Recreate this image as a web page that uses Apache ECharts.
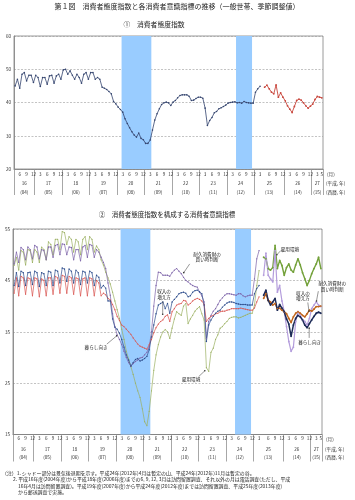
<!DOCTYPE html>
<html><head><meta charset="utf-8">
<script src="https://cdn.jsdelivr.net/npm/echarts/dist/echarts.min.js"></script>
<style>html,body{margin:0;padding:0;background:#fff}#c{width:355px;height:500px}</style>
</head><body><div id="c"></div>
<script>
const FONT = '"Noto Sans CJK JP", "Noto Sans", sans-serif';

// ---- categories: monthly slots Apr 2004 - May 2015, with one empty slot after Mar 2013 (survey change)
const months = [];
for (let y = 2004; y <= 2015; y++) {
  for (let m = 1; m <= 12; m++) {
    if (y === 2004 && m < 4) continue;
    if (y === 2015 && m > 5) break;
    months.push(y + '-' + String(m).padStart(2, '0'));
    if (y === 2013 && m === 3) months.push('gap');
  }
}
const yearsList = [2004,2005,2006,2007,2008,2009,2010,2011,2012,2013,2014,2015];
const heiseiYears = ['16','17','18','19','20','21','22','23','24','25','26','27'];
const westernYears = ['(04)','(05)','(06)','(07)','(08)','(09)','(10)','(11)','(12)','(13)','(14)','(15)'];
const monthTickLabels = [3, 6, 9, 12];
const recessions = [['2008-03','2009-03'], ['2012-05','2012-11']];

// ---- ① 消費者態度指数 (Apr 2004 - Mar 2013 old survey, Apr 2013 - May 2015 new survey)
const cciOld = [
  45.0,47.0,44.3,48.5,49.0,46.5,48.2,48.2,46.0,
  48.2,47.5,44.8,47.5,47.5,45.5,48.0,48.2,45.8,48.0,48.5,47.0,
  49.8,50.0,48.5,49.5,48.2,47.0,48.5,47.5,45.8,48.5,49.0,47.0,
  49.0,49.0,47.0,47.5,47.0,44.6,44.3,43.9,43.3,42.6,40.3,39.6,
  38.6,37.9,37.1,35.1,33.7,32.4,31.2,30.2,29.6,30.8,29.2,28.8,
  27.7,27.7,28.7,31.7,34.7,36.6,38.1,39.4,39.9,40.1,39.9,39.1,
  40.1,40.6,41.4,42.1,42.3,42.3,42.3,41.9,40.6,40.7,41.2,41.6,
  41.6,41.3,38.3,33.1,34.6,35.5,36.9,37.3,38.1,38.4,38.8,39.2,
  39.8,40.0,40.1,40.2,39.9,40.0,39.8,40.3,40.0,39.9,39.8,39.8,
  43.1,44.1,44.9];
const cciNew = [44.6,45.2,44.1,43.1,42.6,45.3,41.6,42.9,41.6,40.5,39.0,38.0,37.0,38.8,40.6,41.0,40.7,39.9,39.0,38.3,38.9,39.5,40.9,41.8,41.6,41.4];

// ---- ② 各消費者意識指標
const lifeOld = [
  44.0,46.5,43.8,46.8,46.5,44.0,46.5,46.6,44.2,
  46.8,46.5,43.8,46.5,46.3,44.0,46.8,46.6,44.0,47.0,46.8,44.5,
  47.4,47.2,44.8,47.2,46.8,44.5,47.0,46.5,44.2,46.8,46.6,44.5,
  46.8,46.5,44.0,46.0,45.6,43.5,44.0,43.5,41.0,41.0,37.5,35.9,
  35.5,34.7,33.5,32.0,30.5,29.5,28.3,29.0,29.6,29.8,29.3,29.5,
  29.8,30.2,31.5,34.0,36.3,38.5,40.2,40.5,40.8,39.5,40.5,38.6,
  40.8,41.3,41.8,42.4,42.6,42.7,42.5,41.8,42.0,42.7,43.0,43.1,
  42.8,42.4,40.2,33.1,36.3,37.3,38.0,38.6,39.0,39.2,39.8,40.2,
  40.6,40.8,40.8,40.7,40.5,40.4,40.3,40.3,40.3,40.2,40.2,40.2,
  42.4,43.4,44.0];
const incomeOld = [
  42.5,45.5,42.0,45.8,45.5,42.3,45.5,45.3,42.0,
  45.5,45.3,41.8,45.3,45.0,42.0,45.5,45.5,42.3,45.8,45.5,42.5,
  46.0,45.8,42.5,45.8,45.5,42.3,45.5,45.3,42.0,45.3,45.5,42.0,
  45.5,45.3,42.0,45.0,44.5,42.0,42.5,42.2,41.5,41.2,40.3,39.3,
  38.0,37.2,36.3,36.0,35.5,35.0,34.5,33.8,33.2,32.6,32.2,32.0,
  31.8,31.6,32.5,33.5,34.8,35.8,36.5,37.0,37.3,38.0,38.3,37.0,
  38.9,39.5,40.2,40.4,40.5,41.1,41.0,40.2,40.5,41.0,41.3,41.5,
  41.3,41.0,40.3,37.0,37.6,38.0,38.2,38.5,38.6,38.9,39.0,39.0,
  39.2,39.3,39.5,39.5,39.5,39.5,39.6,39.5,39.4,39.3,39.2,39.2,
  39.6,40.8,41.8];
const employOld = [
  47.9,49.5,47.0,50.8,50.5,48.0,51.0,50.8,48.5,
  51.0,50.5,48.5,51.5,51.0,49.0,52.5,52.0,50.0,53.0,53.0,51.0,
  54.5,54.3,52.0,53.5,53.0,50.5,53.0,52.5,50.0,53.0,53.5,51.0,
  53.5,53.0,50.5,51.7,51.0,49.0,48.0,46.6,45.5,44.3,42.7,41.0,
  39.3,37.6,35.5,33.5,31.2,29.7,28.2,26.7,25.0,23.5,22.2,20.0,
  17.5,16.7,19.5,23.5,27.5,30.5,32.5,34.0,35.0,35.4,35.0,33.7,
  35.7,37.5,38.9,38.5,38.2,40.0,40.5,36.6,37.5,38.2,39.0,39.5,
  39.9,38.5,37.3,28.0,27.3,31.0,31.8,33.5,34.4,35.7,36.0,36.6,
  37.0,37.6,37.8,37.9,37.9,37.7,37.8,38.0,38.2,38.4,38.6,38.6,
  40.2,44.0,46.9];
const durableOld = [
  48.2,50.5,48.5,51.4,51.0,49.0,51.5,51.0,49.2,
  51.8,51.5,49.2,51.0,50.8,49.0,51.5,51.5,49.5,51.8,52.0,50.0,
  52.1,52.0,50.0,51.5,51.4,49.0,51.0,51.0,48.8,51.5,51.8,49.5,
  52.0,51.8,49.5,51.0,50.5,49.5,48.5,47.3,44.5,42.1,38.5,36.0,
  34.4,33.5,32.5,31.2,30.0,29.0,28.3,28.8,29.2,29.5,29.9,30.0,
  30.5,31.0,32.0,35.0,40.0,44.0,46.6,46.5,46.0,46.0,46.0,45.8,
  46.5,47.0,47.3,46.8,46.3,45.6,45.0,44.7,44.3,44.0,43.8,43.7,
  42.7,42.0,40.8,33.7,37.0,38.2,39.0,39.5,40.3,41.1,41.6,42.1,
  42.4,42.4,42.3,42.2,42.1,42.4,42.4,42.0,41.8,42.0,42.1,42.1,
  45.3,49.2,50.8];
const lifeNew    = [42.1,43.1,41.1,40.2,40.8,41.5,39.2,40.3,39.6,38.9,37.5,36.5,34.1,36.3,37.6,38.2,37.9,37.3,36.3,35.8,36.6,37.3,38.0,38.6,38.8,38.6];
const incomeNew  = [41.5,42.4,41.1,40.8,40.2,40.5,39.5,39.6,39.2,38.9,38.5,37.6,36.8,37.9,38.6,38.9,38.6,38.2,37.9,38.5,39.2,39.0,39.4,39.9,39.9,40.0];
const employNew  = [49.5,49.2,47.3,47.0,47.5,51.8,47.3,48.9,47.9,46.0,47.5,48.2,47.0,46.6,48.0,49.2,48.0,46.5,45.3,44.0,45.0,46.3,47.3,48.2,49.5,47.3];
const durableNew = [46.0,50.3,46.0,45.3,44.7,50.8,42.7,44.0,41.0,38.9,36.0,33.1,31.2,32.0,37.0,38.9,38.2,37.3,37.0,36.3,37.6,39.5,40.2,40.8,40.2,39.9];

// annotation texts with anchor points in data units (x = slot units on the value axis, y = index value)
const annotations = [
  {text:'暮らし向き', label:[36.3,31.9], from:[41.0,32.6], to:[45.3,34.2]},
  {text:'収入の\n増え方', label:[66.0,42.3], from:[65.4,40.9], to:[65.4,38.4]},
  {text:'耐久消費財の\n買い時判断', label:[84.8,49.6], from:[77.2,48.2], to:[74.6,46.5]},
  {text:'雇用環境', label:[77.8,25.8], from:[81.2,26.3], to:[83.8,27.4]},
  {text:'雇用環境', label:[121.0,51.0], from:[117.0,50.8], to:[115.3,50.0]},
  {text:'耐久消費財の\n買い時判断', label:[139.5,43.8], from:[133.4,42.9], to:[132.6,41.0]},
  {text:'収入の\n増え方', label:[126.7,42.0], from:[128.8,40.7], to:[129.3,39.0]},
  {text:'暮らし向き', label:[129.6,32.9], from:[129.4,33.8], to:[129.4,35.7]}
];

// ---- helpers
const N = months.length;
const oldStart = 0, newStart = months.indexOf('2013-04');
const padOld = arr => months.map((m, i) => (i - oldStart >= 0 && i - oldStart < arr.length) ? arr[i - oldStart] : null);
const padNew = arr => months.map((m, i) => (i >= newStart && i - newStart < arr.length) ? arr[i - newStart] : null);
function monthLabel(i) {
  const m = months[i];
  if (m === 'gap') return '';
  const mm = +m.slice(5);
  if (i === N - 1 || monthTickLabels.indexOf(mm) >= 0) return String(mm);
  return '';
}
const yearLabel = {};
yearsList.forEach((y, k) => {
  let first = -1, last = -1;
  months.forEach((m, i) => { if (m.slice(0, 4) === String(y)) { if (first < 0) first = i; last = i; } });
  yearLabel[(first + last + 1) / 2] = heiseiYears[k] + '\n' + westernYears[k];
});
const shadeAreas = recessions.map(r => [{xAxis: months.indexOf(r[0])}, {xAxis: months.indexOf(r[1]) + 1}]);

function xAxes(gridIndex, c) {
  return [
    { type:'category', gridIndex, data:months, boundaryGap:true,
      axisLine:{lineStyle:{color:'#808080', width:0.8}},
      axisTick:{show:true, interval:(i, v) => i === 0 || /-01$/.test(v), length:c.sep, lineStyle:{color:'#909090', width:0.8}},
      axisLabel:{interval:(i) => monthLabel(i) !== '', formatter:(v, i) => monthLabel(i), fontSize:4.6, fontFamily:FONT, color:'#333', margin:c.mm},
      name:'(月)', nameLocation:'end', nameGap:3,
      nameTextStyle:{fontSize:4.6, fontFamily:FONT, color:'#333', verticalAlign:'top', padding:[c.mm + 0.5, 0, 0, 0]}
    },
    { type:'value', gridIndex, min:0, max:N, interval:0.5, position:'bottom',
      axisLine:{show:false}, axisTick:{show:false}, splitLine:{show:false},
      axisLabel:{formatter:v => yearLabel[v] || '', fontSize:4.6, fontFamily:FONT, color:'#333', lineHeight:c.lh, margin:c.ym, showMinLabel:true, showMaxLabel:true},
      name:'(平成, 年)\n(西暦, 年)', nameLocation:'end', nameGap:3,
      nameTextStyle:{fontSize:4.6, fontFamily:FONT, color:'#333', lineHeight:c.lh, verticalAlign:'top', padding:[c.ym, 0, 0, 0]}
    }
  ];
}
function yAxis(gridIndex, min, max) {
  return { type:'value', gridIndex, min, max, interval:10,
    axisLine:{show:true, lineStyle:{color:'#808080', width:0.8}}, axisTick:{show:false},
    axisLabel:{fontSize:4.6, fontFamily:FONT, color:'#333', margin:3},
    splitLine:{show:true, lineStyle:{color:'#9a9a9a', width:0.6, type:[2,1.5]}} };
}
function line(name, data, xi, yi, color, width, sym) {
  return { name, type:'line', data, xAxisIndex:xi, yAxisIndex:yi, z:3,
    showSymbol:true, showAllSymbol:true, symbol:'circle', symbolSize:sym, connectNulls:false,
    lineStyle:{color, width}, itemStyle:{color}, animation:false, silent:true };
}
function shadeHost(xi, yi) {
  return { type:'line', data:[], xAxisIndex:xi, yAxisIndex:yi, z:1, silent:true, animation:false,
    markArea:{silent:true, itemStyle:{color:'#99ccff', opacity:1}, data:shadeAreas} };
}

const chart = echarts.init(document.getElementById('c'));
chart.setOption({
  animation:false,
  textStyle:{fontFamily:FONT},
  grid:[
    {left:14, right:32, top:36, height:133, show:true, borderColor:'#808080', borderWidth:0.8, backgroundColor:'#fff'},
    {left:13, right:33, top:229, height:205.5, show:true, borderColor:'#808080', borderWidth:0.8, backgroundColor:'#fff'}
  ],
  xAxis:[].concat(xAxes(0, {sep:26, mm:2.5, lh:9, ym:9.5}), xAxes(1, {sep:27, mm:1.5, lh:8, ym:11})),
  yAxis:[yAxis(0, 20, 60), yAxis(1, 15, 55)],
  series:[
    shadeHost(1, 0),
    line('消費者態度指数', padOld(cciOld), 0, 0, '#34446e', 0.8, 1.6),
    line('消費者態度指数(郵送)', padNew(cciNew), 0, 0, '#c8463c', 0.9, 1.8),
    shadeHost(3, 1),
    line('雇用環境', padOld(employOld), 2, 1, '#9bb061', 0.7, 1.2),
    line('耐久消費財の買い時判断', padOld(durableOld), 2, 1, '#7b62a8', 0.7, 1.3),
    line('収入の増え方', padOld(incomeOld), 2, 1, '#d9534f', 0.7, 1.2),
    line('暮らし向き', padOld(lifeOld), 2, 1, '#2e4d8c', 0.7, 1.4),
    line('雇用環境(郵送)', padNew(employNew), 2, 1, '#73a13a', 1.4, 1.8),
    line('耐久消費財の買い時判断(郵送)', padNew(durableNew), 2, 1, '#b49ddc', 1.2, 1.8),
    line('収入の増え方(郵送)', padNew(incomeNew), 2, 1, '#c0651c', 1.4, 1.8),
    line('暮らし向き(郵送)', padNew(lifeNew), 2, 1, '#1e2c58', 1.5, 1.8)
  ]
});

// ---- texts and annotations
const g = [];
function txt(text, x, y, size, align, extra) {
  g.push(Object.assign({type:'text', x, y, silent:true, z:10,
    style:{text, fill:'#222', font:size + 'px ' + FONT, textAlign:align || 'left', textVerticalAlign:'middle', lineHeight:size + 1.2}}, extra || {}));
}
txt('第１図　消費者態度指数と各消費者意識指標の推移（一般世帯、季節調整値）', 177, 6, 7, 'center');
txt('①　消費者態度指数', 154, 24, 6.8, 'center');
txt('②　消費者態度指数を構成する消費者意識指標', 167, 215, 6.5, 'center');
txt('（注）1. シャドー部分は景気後退期を示す。平成24年(2012年)4月は暫定の山、平成24年(2012年)11月は暫定の谷。', 2, 473, 4.9);
txt('2. 平成16年度(2004年度)から平成18年度(2006年度)までの6, 9, 12, 3月は訪問留置調査、それ以外の月は電話調査(ただし、平成', 13, 479.5, 4.9);
txt('16年4月は訪問留置調査)。平成19年度(2007年度)から平成24年度(2012年度)までは訪問留置調査、平成25年度(2013年度)', 18, 486, 4.9);
txt('から郵送調査で実施。', 18, 492, 4.9);

const P = p => chart.convertToPixel({xAxisIndex:3, yAxisIndex:1}, p);
annotations.forEach(a => {
  const l = P(a.label), f = P(a.from), t = P(a.to);
  g.push({type:'line', silent:true, z:10, shape:{x1:f[0], y1:f[1], x2:t[0], y2:t[1]}, style:{stroke:'#333', lineWidth:0.5}});
  g.push({type:'circle', silent:true, z:10, shape:{cx:t[0], cy:t[1], r:0.8}, style:{fill:'#333'}});
  g.push({type:'text', silent:true, z:10, x:l[0], y:l[1],
    style:{text:a.text, fill:'#222', font:'4.6px ' + FONT, textAlign:'center', textVerticalAlign:'middle', lineHeight:5.6}});
});
chart.setOption({graphic:g});
</script></body></html>
